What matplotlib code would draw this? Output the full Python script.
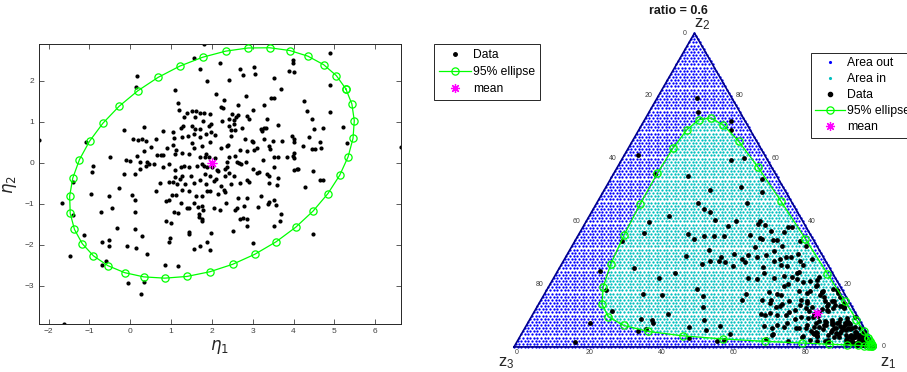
import numpy as np
import matplotlib
matplotlib.use("Agg")
import matplotlib.pyplot as plt
from matplotlib.lines import Line2D

plt.rcParams['font.family'] = ['Liberation Sans', 'DejaVu Sans']
plt.rcParams['mathtext.fontset'] = 'dejavusans'

# ---- observations in log-ratio coordinates (eta1 = log z1/z3, eta2 = log z2/z3)
eta1 = [
    1.80, 1.55, 2.20, 1.71, 2.69, 3.04, 3.05, 2.76, 4.90, 3.98, 3.98, 3.88, 4.01, 0.16, 2.42, 3.53,
    1.88, 0.15, 1.09, 4.88, 3.70, 2.11, 2.83, 2.29, 3.45, 3.52, 4.26, 1.16, 2.23, 2.27, 2.63, 3.27,
    1.19, 3.00, 4.33, 4.90, 1.40, 1.51, 1.62, 1.70, 1.81, 1.96,
    2.50, 2.63, 2.58, 2.53, 2.87, 1.31, 1.58, 1.78, 1.99, 2.24, 2.41, 2.91, 3.35, 4.44, 3.62, 1.24,
    1.30, 1.51, 1.58, 1.71, 1.93, 2.42, 2.53, 2.56, 2.74, 3.20, 3.27, 3.33, 3.23, 4.51, 4.73, 5.22,
    0.35, -0.15, 0.80, 1.04, 1.27, 1.41, 1.55, 1.71, 1.85, 1.98, 2.08, 2.48, 2.47, 2.82, 2.98, 3.27,
    3.49, 3.71, 3.97, 4.02, 4.37, 4.64, 5.31, -1.08, 0.08, 0.19, 0.30, 0.38, 0.62, 1.07, 1.06, 1.51,
    1.76, 1.96, 2.39, 3.00, 3.39, 4.00, 4.24, 4.53, 4.45, 4.66,
    -0.49, -0.11, 0.00, 0.16, 0.24, 0.34, 0.51, 0.65, 0.76, 0.80, 0.90, 1.12, 1.10, 1.27, 1.44, 1.55,
    1.70, 1.83, 1.93, 1.85, 2.08, 2.22, 2.36, 2.41, 2.57, 2.69, 2.86, 3.02, 3.10, 3.24, 3.43, 3.53,
    3.61, 3.83, 3.98, 4.00, 4.00, 0.41, 0.38, 0.47, 0.59, 0.24, 0.80, 0.94, 1.09, 1.24, 1.31, 1.43,
    1.63, 1.76, 1.81, 1.89, 2.00, 2.12, 2.16, 2.33, 2.37, 2.37, 2.42, 2.61, 2.66, 2.71, 2.84, 3.00,
    3.10, 3.16, 3.35, 3.53, 4.02, 4.08, 4.11, 4.47, -2.24, 6.63, -0.90, -0.94, -0.14, 0.11, 1.10, 1.27,
    1.49, 1.83, 1.96, 2.53, 2.33, 3.40, 3.62,
    -0.28, 0.64, 0.72, 0.94, 1.06, 1.14, 1.23, 1.35, 1.55, 1.71, 1.85, 2.04, 2.09, 2.23, 2.30, 2.33,
    2.47, 2.68, 2.86, 2.90, 3.40, 3.59, 4.29, 4.65, 4.73, -0.96, -0.52, 0.04, 0.11, 0.87, 0.94, 1.02,
    1.12, 1.28, 1.43, 1.62, 1.76, 1.89, 1.96, 2.16, 2.64, 2.78, 2.87, 3.21, 3.41, 3.53, 3.58, 1.25,
    1.39, 1.43, 1.57, 1.66, 1.76, 2.04, 2.19, 2.34, 2.57, 2.61, 3.13, 3.38, -0.72, -0.44, 0.11, -1.68,
    -1.39, 1.08, 1.18, 1.68, 1.69, 1.76, 1.78, -1.40,
    0.88, 0.99, 1.75, 2.69, 2.76, 2.85, 3.70, 3.66, -0.33, 0.12, 0.30, -1.14, 1.43, 1.45, 2.51, 2.86,
    3.51, 4.47, 1.98, -0.68, -0.53, -0.51, -0.07, 0.13, 0.96, 0.98, 1.57, 1.70, 1.88, 1.96, 3.00, 0.42,
    -1.47, -0.59, -0.68, 0.86, 1.17, 0.34, -0.06, 0.26, -1.63,
]
eta2 = [
    2.89, 2.55, 2.44, 2.29, 2.28, 2.34, 2.16, 2.14, 2.67, 2.50, 2.43, 2.24, 2.22, 2.12, 2.02, 2.08,
    2.00, 1.86, 1.77, 1.89, 1.80, 1.67, 1.63, 1.52, 1.59, 1.59, 1.50, 1.47, 1.36, 1.33, 1.40, 1.41,
    1.29, 1.28, 1.26, 1.25, 1.22, 1.26, 1.27, 1.21, 1.22, 1.18,
    1.18, 1.16, 1.11, 1.05, 1.15, 1.11, 1.11, 1.03, 0.95, 1.02, 1.07, 1.08, 1.08, 1.07, 0.93, 0.86,
    0.89, 0.89, 0.82, 0.82, 0.89, 0.89, 0.94, 0.80, 0.85, 0.83, 0.86, 0.84, 0.77, 0.82, 0.84, 0.88,
    0.88, 0.80, 0.77, 0.75, 0.64, 0.66, 0.70, 0.63, 0.71, 0.76, 0.67, 0.79, 0.66, 0.57, 0.54, 0.57,
    0.54, 0.52, 0.66, 0.59, 0.63, 0.50, 0.49, 0.50, 0.57, 0.55, 0.57, 0.52, 0.58, 0.60, 0.44, 0.48,
    0.40, 0.51, 0.43, 0.50, 0.42, 0.50, 0.41, 0.34, 0.33, 0.37,
    0.14, 0.07, 0.05, 0.17, 0.02, 0.28, 0.38, 0.20, 0.20, 0.18, 0.36, 0.32, 0.21, 0.25, 0.22, 0.36,
    0.13, 0.15, 0.15, 0.22, 0.11, 0.35, 0.42, 0.14, 0.17, 0.32, 0.30, 0.32, 0.36, 0.06, 0.33, 0.14,
    0.15, 0.14, 0.17, 0.24, 0.11, 0.01, -0.07, -0.03, -0.02, -0.15, -0.09, -0.02, -0.18, -0.11, -0.08, -0.11,
    -0.07, -0.03, -0.07, -0.11, -0.09, -0.17, -0.20, -0.14, 0.01, -0.09, -0.25, 0.03, -0.01, -0.02, 0.03, -0.15,
    -0.25, -0.22, -0.28, -0.09, -0.17, -0.14, -0.15, -0.21, 0.55, 0.39, -0.07, -0.23, -0.27, -0.27, -0.35, -0.32,
    -0.31, -0.28, -0.32, -0.33, -0.33, -0.33, -0.37,
    -0.61, -0.68, -0.48, -0.46, -0.46, -0.51, -0.40, -0.51, -0.50, -0.41, -0.51, -0.44, -0.40, -0.56, -0.67, -0.72,
    -0.51, -0.48, -0.43, -0.47, -0.50, -0.54, -0.58, -0.41, -0.41, -0.77, -0.80, -0.78, -0.90, -0.93, -0.90, -0.78,
    -0.78, -0.67, -0.68, -0.80, -0.80, -0.68, -0.69, -0.76, -0.86, -1.05, -0.86, -0.80, -0.96, -0.90, -1.02, -0.98,
    -1.11, -1.11, -0.98, -1.07, -1.06, -1.09, -1.15, -0.98, -1.15, -1.09, -1.07, -1.01, -1.21, -1.11, -1.19, -0.98,
    -1.28, -1.20, -1.23, -1.24, -1.31, -1.36, -1.16, -0.46,
    -1.43, -1.46, -1.41, -1.37, -1.35, -1.36, -1.25, -1.43, -1.59, -1.61, -1.78, -1.76, -1.73, -1.68, -1.67, -1.55,
    -1.55, -1.74, -1.72, -1.93, -1.89, -2.04, -2.02, -2.08, -1.94, -1.84, -2.11, -2.04, -1.93, -2.13, -1.96, -2.22,
    -2.28, -2.39, -2.49, -2.50, -2.52, -2.90, -2.92, -3.20, -3.93,
]

# ---- ellipse parameters (centre and covariance in eta space)
center = [2.0, 0.0]
cov = [[2.03, 0.56],
       [0.56, 1.32]]
chi2_95 = 5.9915          # 95% quantile of chi-square with 2 dof
n_ellipse = 40            # points along the ellipse outline
n_grid = 100              # resolution of the simplex grid
ratio = 0.6

x_ticks = [-2, -1, 0, 1, 2, 3, 4, 5, 6]
y_ticks = [-3, -2, -1, 0, 1, 2]
tern_ticks = [0, 20, 40, 60, 80]

GREEN = (0, 1, 0)
MAGENTA = (1, 0, 1)
TICKCOL = '#404040'
ASTERISK = (8, 2, 0)      # eight-armed asterisk marker

e1 = np.asarray(eta1)
e2 = np.asarray(eta2)
mu = np.asarray(center)
S = np.asarray(cov)

# ellipse outline built on the principal axes
vals, vecs = np.linalg.eigh(S)
u_maj = vecs[:, 1] * np.sign(vecs[0, 1])
u_min = np.array([-u_maj[1], u_maj[0]])
t = np.linspace(0, 2 * np.pi, n_ellipse)
r = np.sqrt(chi2_95)
ell = (mu[:, None]
       + r * np.sqrt(vals[1]) * np.outer(u_maj, np.cos(t))
       + r * np.sqrt(vals[0]) * np.outer(u_min, np.sin(t)))


def alr_inv(a, b):
    """additive log-ratio inverse -> composition (z1, z2, z3)"""
    a = np.asarray(a, float)
    b = np.asarray(b, float)
    w = np.stack([np.exp(a), np.exp(b), np.ones_like(a)])
    return w / w.sum(axis=0)


def tern_xy(z):
    """barycentric (z1, z2, z3) -> cartesian; z1 bottom-right, z2 top, z3 bottom-left"""
    return z[0] + 0.5 * z[1], z[1] * np.sqrt(3) / 2


fig = plt.figure(figsize=(9.07, 3.72), dpi=100)
W, H = 907.0, 372.0

# ================= left panel: eta space =================
ax = fig.add_axes([38.7 / W, 48 / H, 362.3 / W, 279.7 / H])
ax.scatter(e1, e2, s=9, c='k', linewidths=0, zorder=2)
ax.plot(ell[0], ell[1], '-o', color=GREEN, lw=0.9, ms=5.2, mfc='none', mew=0.9, zorder=3)
ax.plot(mu[0], mu[1], marker=ASTERISK, ls='none', color=MAGENTA, ms=7, mew=0.9, zorder=4)
ax.set_xlim(e1.min(), e1.max())
ax.set_ylim(e2.min(), e2.max())
ax.set_xticks(x_ticks)
ax.set_yticks(y_ticks)
ax.tick_params(direction='in', length=3.5, width=0.6, labelsize=6, colors=TICKCOL,
               top=True, right=True, pad=3)
for sp in ax.spines.values():
    sp.set_color('#262626')
    sp.set_linewidth(0.7)
ax.set_xlabel(r'$\eta_1$', fontsize=12, color='#262626', labelpad=2)
ax.set_ylabel(r'$\eta_2$', fontsize=12, color='#262626', labelpad=4)

h_data = Line2D([], [], ls='none', marker='.', color='k', ms=5)
h_ell = Line2D([], [], ls='-', marker='o', color=GREEN, lw=0.9, ms=5.2, mfc='none', mew=0.9)
h_mean = Line2D([], [], ls='none', marker=ASTERISK, color=MAGENTA, ms=6.5, mew=0.9)
fig.legend([h_data, h_ell, h_mean], ['Data', '95% ellipse', 'mean'],
           loc='upper left', bbox_to_anchor=(434 / W, 1 - 44 / H), fontsize=8.7,
           frameon=True, fancybox=False, edgecolor='#262626', framealpha=1,
           handlelength=2.7, handletextpad=0.15, borderpad=0.4, labelspacing=0.42,
           borderaxespad=0).get_frame().set_linewidth(0.7)

# ================= right panel: ternary diagram =================
m = 0.06
px = 361.0          # pixels per unit side length
tx = fig.add_axes([(514 - m * px) / W, (372 - 347 - m * px) / H,
                   px * (1 + 2 * m) / W, (314 + 2 * m * px) / H])
tx.set_xlim(-m, 1 + m)
tx.set_ylim(-m, np.sqrt(3) / 2 + m)
tx.axis('off')

# simplex grid classified against the ellipse
gi, gj = np.meshgrid(np.arange(n_grid + 1), np.arange(n_grid + 1), indexing='ij')
keep = gi + gj <= n_grid
z1g = gi[keep] / n_grid
z2g = gj[keep] / n_grid
z3g = 1 - z1g - z2g
pos = (z1g > 0) & (z2g > 0) & (z3g > 1e-9)
inside = np.zeros_like(pos)
with np.errstate(divide='ignore', invalid='ignore'):
    a = np.log(z1g[pos] / z3g[pos]) - mu[0]
    b = np.log(z2g[pos] / z3g[pos]) - mu[1]
Si = np.linalg.inv(S)
d2 = Si[0, 0] * a * a + 2 * Si[0, 1] * a * b + Si[1, 1] * b * b
inside[pos] = d2 <= chi2_95
gx, gy = tern_xy(np.stack([z1g, z2g, z3g]))
tx.scatter(gx[~inside], gy[~inside], s=2.8, c='b', linewidths=0, zorder=1)
tx.scatter(gx[inside], gy[inside], s=2.8, c='c', linewidths=0, zorder=1)

# triangle outline
tri_x = [0, 1, 0.5, 0]
tri_y = [0, 0, np.sqrt(3) / 2, 0]
tx.plot(tri_x, tri_y, color='#00008b', lw=1.2, zorder=2)

# observations, ellipse and mean mapped to the simplex
dx, dy = tern_xy(alr_inv(e1, e2))
tx.scatter(dx, dy, s=12, c='k', linewidths=0, zorder=3)
ex, ey = tern_xy(alr_inv(ell[0], ell[1]))
tx.plot(ex, ey, '-o', color=GREEN, lw=0.9, ms=5.2, mfc='none', mew=0.9, zorder=4, clip_on=False)
mx, my = tern_xy(alr_inv([mu[0]], [mu[1]]))
tx.plot(mx, my, marker=ASTERISK, ls='none', color=MAGENTA, ms=7, mew=0.9, zorder=5)

# edge tick labels
tk = dict(fontsize=5, color=TICKCOL, textcoords='offset pixels', ha='center', va='center')
for v in tern_ticks:
    f = v / 100.0
    # bottom edge: z1
    tx.annotate(str(v), (f, 0), xytext=(3, -6), **tk)
    # left edge: z3
    zl = np.array([0.0, 1 - f, f])
    lx, ly = tern_xy(zl)
    tx.annotate(str(v), (lx, ly), xytext=(-10, 0), **tk)
    # right edge: z2
    zr = np.array([1 - f, f, 0.0])
    rx, ry = tern_xy(zr)
    tx.annotate(str(v), (rx, ry), xytext=(9, 0), **tk)

lab = dict(fontsize=12, color='#262626', textcoords='offset pixels', ha='center', va='center')
tx.annotate(r'$\mathregular{z_2}$', (0.5, np.sqrt(3) / 2), xytext=(8, 9), **lab)
tx.annotate(r'$\mathregular{z_3}$', (0, 0), xytext=(-8, -16), **lab)
tx.annotate(r'$\mathregular{z_1}$', (1, 0), xytext=(13, -16), **lab)
fig.text(678 / W, 1 - 11 / H, f'ratio = {ratio}', fontsize=9, fontweight='bold',
         ha='center', va='center', color='#1a1a1a')

h_out = Line2D([], [], ls='none', marker='.', color='b', ms=2.5)
h_in = Line2D([], [], ls='none', marker='.', color='c', ms=2.5)
h_data2 = Line2D([], [], ls='none', marker='.', color='k', ms=6)
fig.legend([h_out, h_in, h_data2, h_ell, h_mean],
           ['Area out', 'Area in', 'Data', '95% ellipse', 'mean'],
           loc='upper left', bbox_to_anchor=(811 / W, 1 - 53 / H), fontsize=8.8,
           frameon=True, fancybox=False, edgecolor='#262626', framealpha=1,
           handlelength=2.4, handletextpad=0.2, borderpad=0.35, labelspacing=0.33,
           borderaxespad=0).get_frame().set_linewidth(0.7)

fig.savefig('out.png', dpi=100)
